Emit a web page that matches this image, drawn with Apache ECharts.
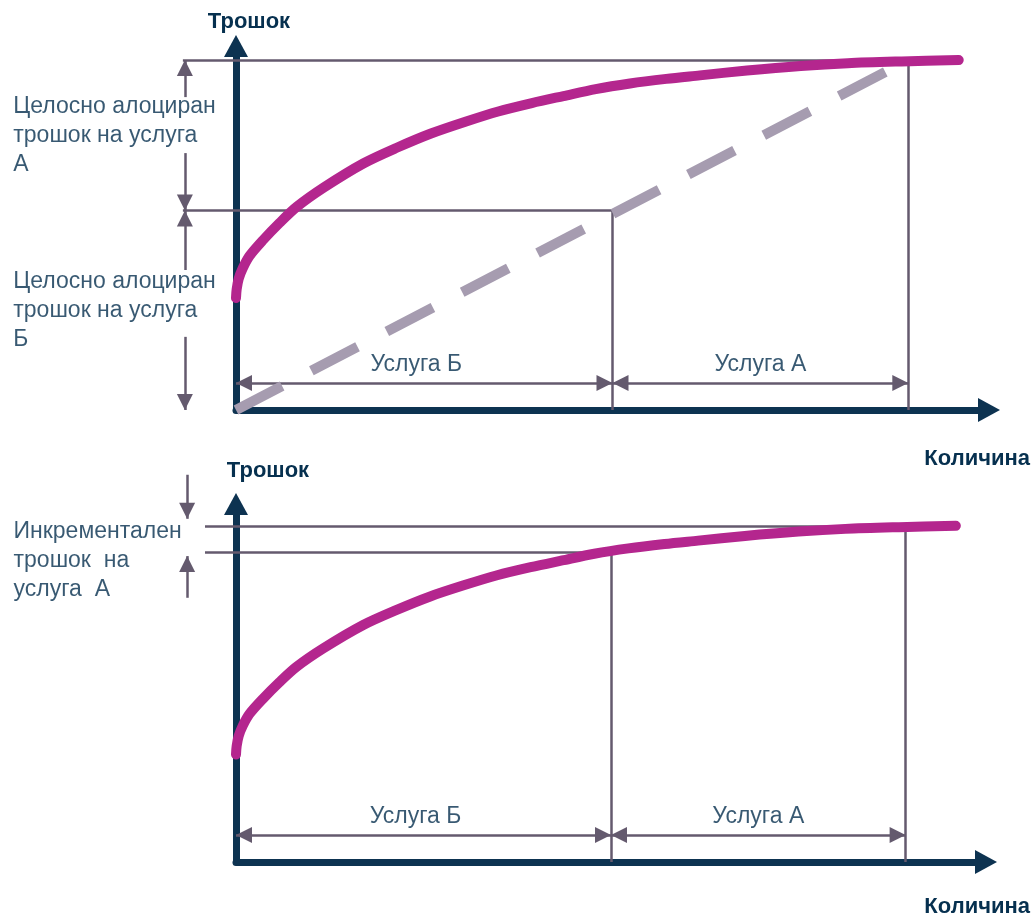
<!DOCTYPE html>
<html>
<head>
<meta charset="utf-8">
<script src="https://cdn.jsdelivr.net/npm/echarts@6/dist/echarts.min.js"></script>
<style>
html,body{margin:0;padding:0;background:#ffffff;}
#chart{width:1035px;height:918px;}
</style>
</head>
<body>
<div id="chart"></div>
<script>
// ---------------- DATA ----------------
// cost curve (quantity, cost) – same cost function in both panels
const costCurve = [[0,32],[0.1,34.5],[0.4,37.5],[1,40.5],[2,44],[4,48.5],[6.5,53.5],[9,58],[13,63.5],[19,70.5],[24,75],[29,79],[34,82.3],[39,85.3],[44,87.7],[48.7,89.7],[53.5,91.7],[58.6,93.3],[64,94.6],[69,95.6],[76,97],[84,98.3],[91,99.1],[99,99.6],[107.5,100]];
// proportional (fully allocated) cost line – top panel only
const proportionalLine = [[0,0],[100,100]];
// quantities: origin, end of service Б, end of service А (total)
const quantities = [0, 56, 100];
// top panel cost levels: fully allocated cost of Б, total cost
const topCostLevels = [57, 100];
// bottom panel cost levels: cost of Б alone, total cost
const bottomCostLevels = [92, 100];
const serviceNames = ['Услуга Б', 'Услуга А'];
const costAxisName = 'Трошок';
const qtyAxisName = 'Количина';
const topSideTexts = ['Целосно алоциран\nтрошок на услуга\nА', 'Целосно алоциран\nтрошок на услуга\nБ'];
const bottomSideText = 'Инкрементален\nтрошок  на\nуслуга  А';

// ---------------- STYLE ----------------
const FONT = '"Liberation Sans", Arial, sans-serif';
const COL = {axis:'#0d3351', text:'#06304f', curve:'#b4268e', dash:'#a69cb0', ref:'#645a6e'};
const HEAD = 16;
const TEXT_SIZE = 23;

function head(x, y, dir){
  const map = {up:[0,[0,HEAD/2]], down:[180,[0,-HEAD/2]], right:[-90,[-HEAD/2,0]], left:[90,[HEAD/2,0]]};
  return {value:[x,y], symbolRotate:map[dir][0], symbolOffset:map[dir][1]};
}

function axes(i, yMax, nameGapY, namePadY, nameGapX, namePadX){
  const axisLine = {show:true, onZero:false, lineStyle:{color:COL.axis, width:7, cap:'round'}, symbol:['none','triangle'], symbolSize:[24,22]};
  const nameStyle = {color:COL.text, fontSize:22, fontWeight:'bold', fontFamily:FONT};
  return {
    x:{gridIndex:i, type:'value', min:0, max:112, name:qtyAxisName, nameLocation:'end', nameGap:nameGapX,
       nameTextStyle:Object.assign({}, nameStyle, {align:'right', verticalAlign:'top', padding:[namePadX,0,0,0]}),
       axisLine:axisLine, axisTick:{show:false}, axisLabel:{show:false}, splitLine:{show:false}},
    y:{gridIndex:i, type:'value', min:0, max:yMax, name:costAxisName, nameLocation:'end', nameGap:nameGapY,
       nameTextStyle:Object.assign({}, nameStyle, {align:'center', verticalAlign:'bottom', padding:[0,0,0,namePadY]}),
       axisLine:axisLine, axisTick:{show:false}, axisLabel:{show:false}, splitLine:{show:false}}
  };
}

function curveSeries(i){
  return {type:'line', xAxisIndex:i, yAxisIndex:i, data:costCurve, symbol:'none', smooth:0.3, silent:true, z:4,
     lineStyle:{color:COL.curve, width:10, cap:'round', join:'round'}, emphasis:{disabled:true}};
}
function dashSeries(i){
  return {type:'line', xAxisIndex:i, yAxisIndex:i, data:proportionalLine, symbol:'none', silent:true, z:3,
     lineStyle:{color:COL.dash, width:10, type:[52,33], cap:'butt'}, emphasis:{disabled:true}};
}
function segSeries(i, segs){
  return {type:'lines', coordinateSystem:'cartesian2d', xAxisIndex:i, yAxisIndex:i, clip:false, silent:true, z:2,
    lineStyle:{color:COL.ref, width:2.5, opacity:1, curveness:0}, symbol:'none',
    data:segs.map(s=>({coords:s}))};
}
function headSeries(i, heads){
  return {type:'scatter', xAxisIndex:i, yAxisIndex:i, clip:false, silent:true, z:5, symbol:'triangle', symbolSize:HEAD,
    itemStyle:{color:COL.ref, opacity:1}, data:heads, emphasis:{disabled:true}};
}
function textSeries(i, items, label){
  return {type:'scatter', xAxisIndex:i, yAxisIndex:i, clip:false, silent:true, z:6, symbolSize:1,
    itemStyle:{color:'rgba(0,0,0,0)'}, data:items, emphasis:{disabled:true},
    label:Object.assign({show:true, formatter:'{b}', color:COL.text, fontSize:TEXT_SIZE, fontFamily:FONT}, label)};
}

const [q0, qB, qA] = quantities;
const series = [];

// ---------- top panel ----------
{
  const i = 0, [cB, cT] = topCostLevels;
  const lx = -7.9, dx = -7.6, dy = 7.7, tx = -33.2;
  series.push(dashSeries(i), curveSeries(i));
  series.push(segSeries(i, [
    [[lx,cT],[qA,cT]], [[lx,cB],[qB,cB]], [[qB,cB],[qB,0]], [[qA,cT],[qA,0]],
    [[q0,dy],[qB,dy]], [[qB,dy],[qA,dy]],
    [[dx,cT],[dx,89.4]], [[dx,73.4],[dx,cB]], [[dx,cB],[dx,40]], [[dx,20.9],[dx,0]]
  ]));
  series.push(headSeries(i, [
    head(q0,dy,'left'), head(qB,dy,'right'), head(qB,dy,'left'), head(qA,dy,'right'),
    head(dx,cT,'up'), head(dx,cB,'down'), head(dx,cB,'up'), head(dx,0,'down')
  ]));
  series.push(textSeries(i, [
    {name:serviceNames[0], value:[(q0+qB)/2, dy], label:{offset:[-8,0]}},
    {name:serviceNames[1], value:[(qB+qA)/2, dy]}
  ], {position:'top', distance:6}));
  series.push(textSeries(i, [
    {name:topSideTexts[0], value:[tx, (cB+cT)/2]},
    {name:topSideTexts[1], value:[tx, cB/2]}
  ], {position:'right', distance:0, align:'left', lineHeight:29}));
}

// ---------- bottom panel ----------
{
  const i = 1, [cB, cT] = bottomCostLevels;
  const lx = -4.63, dx = -7.3, dy = 8.0, tx = -33.3;
  series.push(curveSeries(i));
  series.push(segSeries(i, [
    [[lx,cT],[qA,cT]], [[lx,cB],[qB,cB]], [[qB,cB],[qB,0]], [[qA,cT],[qA,0]],
    [[q0,dy],[qB,dy]], [[qB,dy],[qA,dy]],
    [[dx,cT+15.2],[dx,cT+2.1]], [[dx,cB-13.4],[dx,cB-1]]
  ]));
  series.push(headSeries(i, [
    head(q0,dy,'left'), head(qB,dy,'right'), head(qB,dy,'left'), head(qA,dy,'right'),
    head(dx,cT+2.1,'down'), head(dx,cB-1,'up')
  ]));
  series.push(textSeries(i, [
    {name:serviceNames[0], value:[(q0+qB)/2, dy], label:{offset:[-8,0]}},
    {name:serviceNames[1], value:[(qB+qA)/2, dy]}
  ], {position:'top', distance:6}));
  series.push(textSeries(i, [
    {name:bottomSideText, value:[tx, (cB+cT)/2], label:{offset:[0,21]}}
  ], {position:'right', distance:0, align:'left', lineHeight:29}));
}

const a0 = axes(0, 104, 13, 26, 41, 38);
const a1 = axes(1, 106.5, 22, 64, 44, 34);

const chart = echarts.init(document.getElementById('chart'), null, {renderer:'canvas'});
chart.setOption({
  animation:false,
  backgroundColor:'#ffffff',
  grid:[
    {left:236, top:46, width:753, height:364},
    {left:236, top:504, width:750, height:358}
  ],
  xAxis:[a0.x, a1.x],
  yAxis:[a0.y, a1.y],
  series:series
});
</script>
</body>
</html>
